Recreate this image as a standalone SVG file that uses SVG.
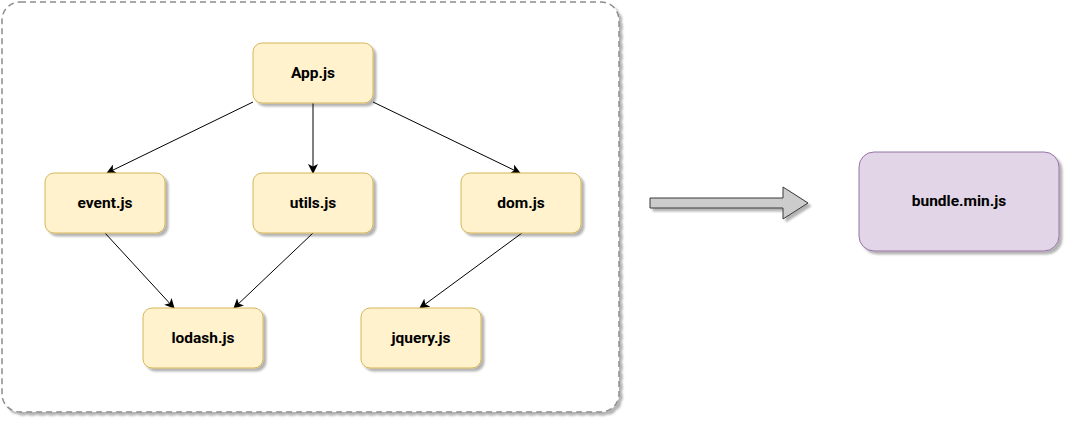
<svg xmlns="http://www.w3.org/2000/svg" width="1074" height="425" viewBox="0 0 1074 425">
<defs>
<filter id="sh" x="-20%" y="-20%" width="150%" height="150%">
<feGaussianBlur in="SourceAlpha" stdDeviation="1.2"/>
<feOffset dx="3" dy="3" result="o"/>
<feComponentTransfer><feFuncA type="linear" slope="0.3"/></feComponentTransfer>
<feMerge><feMergeNode/><feMergeNode in="SourceGraphic"/></feMerge>
</filter>
<marker id="ah" viewBox="0 0 10 10" refX="9" refY="5" markerWidth="10" markerHeight="10" markerUnits="userSpaceOnUse" orient="auto">
<path d="M0,0 L10,5 L0,10 L2.5,5 Z" fill="#000"/>
</marker>
</defs>
<style>
.n rect{fill:#fff2cc;stroke:#d6b656;stroke-width:1;filter:url(#sh)}
.t{font-family:Roboto,"Liberation Sans",sans-serif;font-size:15.5px;font-weight:bold;fill:#000;text-anchor:middle;dominant-baseline:central}
.e{stroke:#000;stroke-width:1;fill:none;marker-end:url(#ah)}
</style>
<rect id="container" x="2" y="2" width="617" height="410" rx="18" fill="#fff" stroke="#8c8c8c" stroke-width="1.5" stroke-dasharray="6,4" filter="url(#sh)"/>
<g id="connectors">
<line class="e" x1="253" y1="102" x2="107" y2="173"/>
<line class="e" x1="313" y1="103" x2="313" y2="173"/>
<line class="e" x1="373" y1="102" x2="520" y2="173"/>
<line class="e" x1="105" y1="233" x2="174" y2="308"/>
<line class="e" x1="313" y1="233" x2="234" y2="308"/>
<line class="e" x1="522" y1="233" x2="420" y2="308"/>
</g>
<g id="app" class="n"><rect x="253" y="43" width="120" height="60" rx="9"/><text class="t" x="313" y="73">App.js</text></g>
<g id="event" class="n"><rect x="45" y="173" width="120" height="60" rx="9"/><text class="t" x="105" y="203">event.js</text></g>
<g id="utils" class="n"><rect x="253" y="173" width="120" height="60" rx="9"/><text class="t" x="313" y="203">utils.js</text></g>
<g id="dom" class="n"><rect x="461" y="173" width="120" height="60" rx="9"/><text class="t" x="521" y="203">dom.js</text></g>
<g id="lodash" class="n"><rect x="143" y="308" width="120" height="60" rx="9"/><text class="t" x="203" y="338">lodash.js</text></g>
<g id="jquery" class="n"><rect x="361" y="308" width="120" height="60" rx="9"/><text class="t" x="421" y="338">jquery.js</text></g>
<g id="bigarrow">
<path d="M650,198 L783,198 L783,187 L808,203 L783,219 L783,208 L650,208 Z" fill="#cccccc" stroke="#36393d" stroke-width="1" filter="url(#sh)"/>
</g>
<g id="bundle">
<rect x="859" y="152" width="200" height="99" rx="15" fill="#e1d5e7" stroke="#9673a6" stroke-width="1" filter="url(#sh)"/>
<text class="t" x="959" y="201">bundle.min.js</text>
</g>
</svg>
